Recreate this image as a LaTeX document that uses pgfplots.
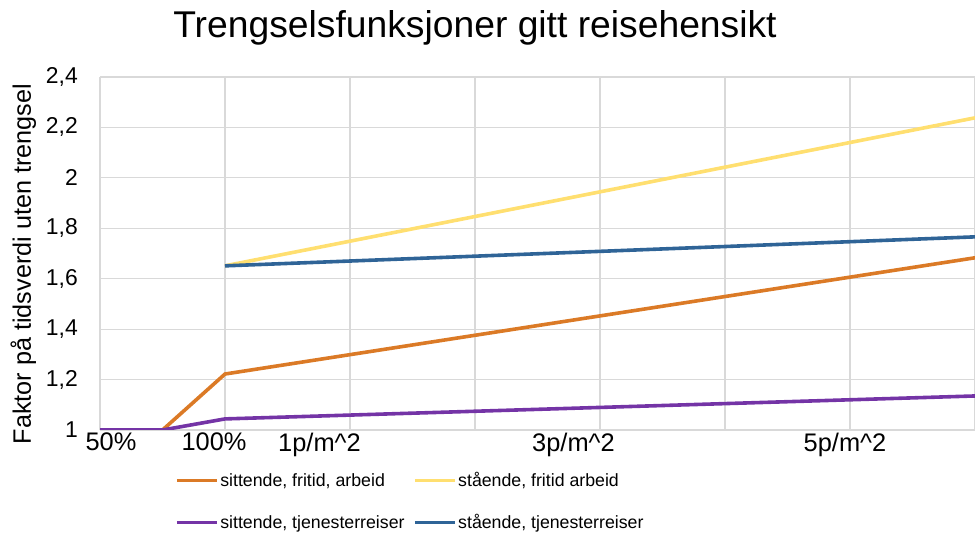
\documentclass[border=0pt]{standalone}
\usepackage{pgfplots}
\pgfplotsset{compat=1.18}
\usepackage{fontspec}
\setmainfont{Liberation Sans}
\definecolor{cOrange}{HTML}{DB7A26}
\definecolor{cYellow}{HTML}{FFDF70}
\definecolor{cPurple}{HTML}{7434A6}
\definecolor{cBlue}{HTML}{2F6497}
\definecolor{gridgray}{HTML}{D9D9D9}
\begin{document}
\begin{tikzpicture}
\useasboundingbox (0,0) rectangle (975bp,535bp);
\begin{axis}[
  at={(100bp,105bp)}, anchor=south west,
  width=875bp, height=353bp, scale only axis,
  xmin=0, xmax=7, ymin=1, ymax=2.4,
  xtick={0,1,2,3,4,5,6,7}, xticklabels={},
  ytick={1,1.2,1.4,1.6,1.8,2,2.2,2.4},
  grid=major, major grid style={draw=gridgray, line width=1.2bp},
  major tick length=0pt,
  axis line style={draw=none},
  extra x ticks={0.088,0.912,1.756,3.788,5.96},
  extra x tick labels={50\%,100\%,1p/m\textasciicircum{}2,3p/m\textasciicircum{}2,5p/m\textasciicircum{}2},
  extra x tick style={grid=none},
  xticklabel style={font=\fontsize{25.5}{25.5}\selectfont, anchor=north, inner sep=0pt, yshift=-3bp},
  /pgf/number format/assume math mode=true,
  /pgf/number format/use comma,
  yticklabel style={font=\fontsize{23}{23}\selectfont, anchor=east, inner sep=0pt, xshift=-22bp},
  title={Trengselsfunksjoner gitt reisehensikt},
  title style={font=\fontsize{37.4}{40}\selectfont, at={(axis description cs:0.4286,1.0963)}, anchor=base, inner sep=0pt},
  ylabel={Faktor på tidsverdi uten trengsel},
  ylabel style={font=\fontsize{25.3}{25.3}\selectfont, at={(axis description cs:-0.0789,0.47)}, anchor=base, inner sep=0pt},
  legend columns=2,
  legend cell align=left,
  legend image code/.code={\draw[#1] (0bp,0bp) -- (40bp,0bp);},
  legend style={draw=none, fill=none, font=\fontsize{17.8}{17.8}\selectfont,
    at={(axis description cs:0.0857,-0.116)}, anchor=north west,
    inner sep=0pt, row sep=23bp, nodes={inner sep=1.5bp},
    /tikz/every even column/.append style={column sep=7bp}},
]
\addplot[cOrange, line width=3.6bp] coordinates {(0,1) (0.5,1) (1,1.222) (7,1.683)};
\addlegendentry{sittende, fritid, arbeid}
\addplot[cYellow, line width=3.6bp] coordinates {(1,1.651) (7,2.238)};
\addlegendentry{stående, fritid arbeid}
\addplot[cPurple, line width=3.6bp] coordinates {(0,1) (0.5,1) (1,1.044) (7,1.135)};
\addlegendentry{sittende, tjenesterreiser}
\addplot[cBlue, line width=3.6bp] coordinates {(1,1.651) (7,1.766)};
\addlegendentry{stående, tjenesterreiser}
\end{axis}
\end{tikzpicture}
\end{document}
